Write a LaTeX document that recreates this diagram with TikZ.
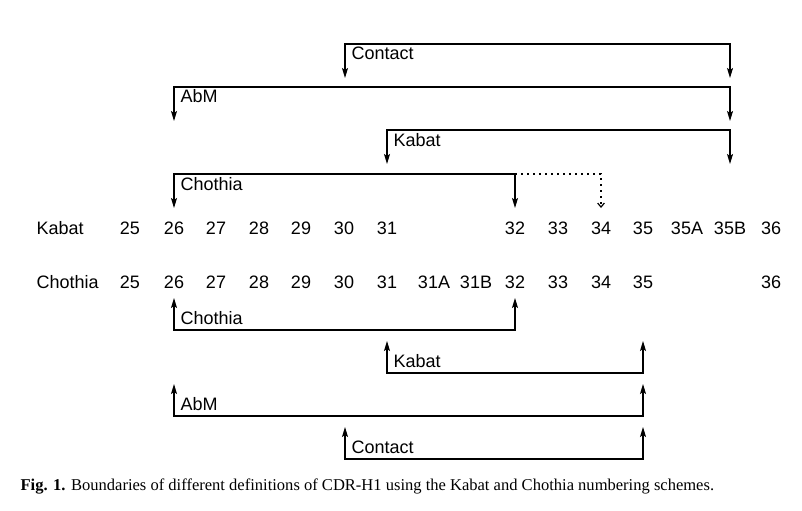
\documentclass[tikz,border=0pt]{standalone}
\usepackage{fontspec}
\setmainfont{Liberation Serif}
\setsansfont{Liberation Sans}
\usetikzlibrary{arrows.meta,positioning}

\begin{document}
\begin{tikzpicture}[x=0.75pt,y=-0.75pt,
    font=\sffamily\fontsize{13.5}{15}\selectfont,
    >={Stealth[length=7.5pt,width=4.5pt,inset=1.5pt]},line width=0.9pt,
    num/.style={inner sep=0pt,anchor=base},
    tag/.style={inner sep=0pt,anchor=base west}]
 \useasboundingbox (0,0) rectangle (802,510);
 % numbering rows
 \node[tag] (kab) at (36,234) {Kabat};
 \node[tag] (cho) at (36,288) {Chothia};
 \foreach \n/\x in {25/130,26/174,27/216,28/259,29/301,30/344,31/387,
    32/515,33/558,34/601,35/643,35A/687,35B/730,36/771}
    \node[num] (k\n) at (\x,234) {\n};
 \foreach \n/\x in {25/130,26/174,27/216,28/259,29/301,30/344,31/387,
    31A/434,31B/476,32/515,33/558,34/601,35/643,36/771}
    \node[num] (c\n) at (\x,288) {\n};
 % Kabat numbering: brackets above
 \foreach \nm/\a/\b/\y in {Contact/345/730/44,AbM/174/730/87,
    Kabat/387/730/130,Chothia/174/515/174}{
   \coordinate (up\nm a) at (\a,\y);
   \coordinate (up\nm b) at (\b,\y);
   \draw[<->] ([yshift=-34*0.75pt]up\nm a) -- (up\nm a) -- (up\nm b)
      -- ([yshift=-34*0.75pt]up\nm b);
   \node[tag] at ([shift={(6,16)}]up\nm a) {\nm};
 }
 \coordinate (dotend) at (601,174);
 \draw[dash pattern=on 1.5pt off 3pt,-{Straight Barb[length=3pt,width=5pt]}]
    (upChothiab) -- (dotend) -- ([yshift=-34*0.75pt]dotend);
 % Chothia numbering: brackets below
 \foreach \nm/\a/\b/\y in {Chothia/174/515/330,Kabat/387/643/373,
    AbM/174/643/416,Contact/345/643/459}{
   \coordinate (dn\nm a) at (\a,\y);
   \coordinate (dn\nm b) at (\b,\y);
   \draw[<->] ([yshift=32*0.75pt]dn\nm a) -- (dn\nm a) -- (dn\nm b)
      -- ([yshift=32*0.75pt]dn\nm b);
   \node[tag] at ([shift={(6,-6)}]dn\nm a) {\nm};
 }
 \node[tag,font=\rmfamily\fontsize{12.4}{14}\selectfont] (cap) at (20,490)
   {\textbf{Fig. 1.} Boundaries of different definitions of CDR-H1 using the
    Kabat and Chothia numbering schemes.};
\end{tikzpicture}
\end{document}
